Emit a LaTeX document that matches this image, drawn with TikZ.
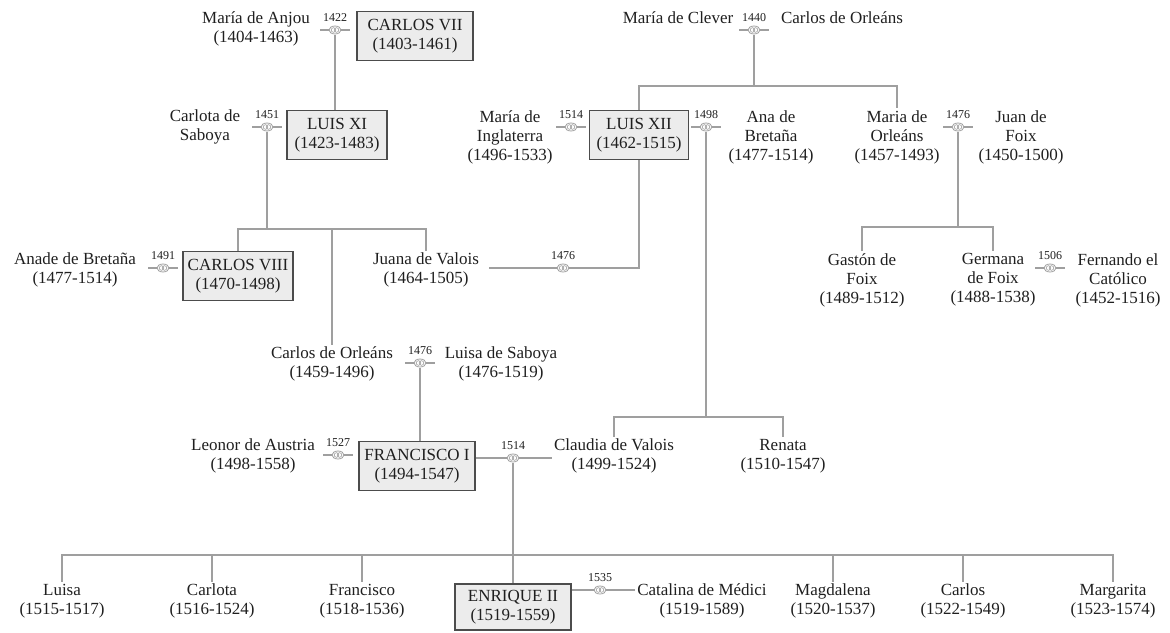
\documentclass[tikz,border=0pt]{standalone}
\usepackage{fontspec}
\setmainfont{Liberation Serif}
\usetikzlibrary{positioning}
\pgfdeclarelayer{bg}
\pgfsetlayers{bg,main}

\begin{document}
\begin{tikzpicture}[x=1pt,y=-1pt,
  person/.style={align=center,text=black!88,inner sep=2pt,font=\fontsize{17}{19}\selectfont},
  king/.style={person,draw=black!70,line width=1.3pt,fill=gray!15,minimum height=49pt,inner xsep=4pt},
  tie/.style={draw=gray!75,line width=1.1pt},
  wyear/.style={text=black!88,inner sep=1pt,font=\fontsize{12}{13}\selectfont},
  wedding/.style={inner sep=0pt,minimum width=30pt,minimum height=10pt,
    label={[wyear,label distance=2pt]above:#1},
    path picture={
      \draw[tie] (path picture bounding box.west) -- (path picture bounding box.east);
      \filldraw[tie,fill=white,line width=0.8pt] (path picture bounding box.center) ellipse (6pt and 4pt);
      \draw[tie,line width=0.6pt] ([xshift=-1.5pt]path picture bounding box.center) circle (2.3pt)
        ([xshift=1.5pt]path picture bounding box.center) circle (2.3pt);}}]
\useasboundingbox (0,0) rectangle (1170,632);
%top row
\node[person] (anjou) at (256,29) {María de Anjou\\(1404-1463)};
\node[wedding=1422] (w1422) at (335,30) {};
\node[king,minimum width=116pt] (carlos7) at (415,36) {CARLOS VII\\(1403-1461)};
\node[person] (clever) at (678,18) {María de Clever};
\node[wedding=1440] (w1440) at (754,30) {};
\node[person] (orleans1) at (842,18) {Carlos de Orleáns};
%second row
\node[person] (carlota) at (205,127) {Carlota de\\Saboya};
\node[wedding=1451] (w1451) at (267,127) {};
\node[king,minimum width=100pt] (luis11) at (337,135) {LUIS XI\\(1423-1483)};
\node[person] (inglaterra) at (510,137) {María de\\Inglaterra\\(1496-1533)};
\node[wedding=1514] (w1514a) at (571,127) {};
\node[king,minimum width=99pt] (luis12) at (639,135) {LUIS XII\\(1462-1515)};
\node[wedding=1498] (w1498) at (706,127) {};
\node[person] (ana) at (771,137) {Ana de\\Bretaña\\(1477-1514)};
\node[person] (mariaO) at (897,137) {Maria de\\Orleáns\\(1457-1493)};
\node[wedding=1476] (w1476b) at (958,127) {};
\node[person] (juanF) at (1021,137) {Juan de\\Foix\\(1450-1500)};
%third row
\node[person] (anade) at (75,270) {Anade de Bretaña\\(1477-1514)};
\node[wedding=1491] (w1491) at (163,268) {};
\node[king,minimum width=110pt] (carlos8) at (238,276) {CARLOS VIII\\(1470-1498)};
\node[person] (juana) at (426,270) {Juana de Valois\\(1464-1505)};
\node[wedding=1476] (w1476a) at (563,268) {};
\node[person] (gaston) at (862,280) {Gastón de\\Foix\\(1489-1512)};
\node[person] (germana) at (993,280) {Germana\\de Foix\\(1488-1538)};
\node[wedding=1506] (w1506) at (1050,268) {};
\node[person] (fernando) at (1118,280) {Fernando el\\Católico\\(1452-1516)};
%fourth row
\node[person] (carlosO) at (332,364) {Carlos de Orleáns\\(1459-1496)};
\node[wedding=1476] (w1476c) at (420,363) {};
\node[person] (luisa) at (501,364) {Luisa de Saboya\\(1476-1519)};
%fifth row
\node[person] (leonor) at (253,456) {Leonor de Austria\\(1498-1558)};
\node[wedding=1527] (w1527) at (338,455) {};
\node[king,minimum width=116pt] (francisco) at (417,466) {FRANCISCO I\\(1494-1547)};
\node[wedding=1514] (w1514b) at (513,458) {};
\node[person] (claudia) at (614,456) {Claudia de Valois\\(1499-1524)};
\node[person] (renata) at (783,456) {Renata\\(1510-1547)};
%children of Francisco I
\node[person] (luisa2) at (62,601) {Luisa\\(1515-1517)};
\node[person] (carlota2) at (212,601) {Carlota\\(1516-1524)};
\node[person] (francisco2) at (362,601) {Francisco\\(1518-1536)};
\node[king,minimum width=116pt,minimum height=46pt] (enrique) at (513,607) {ENRIQUE II\\(1519-1559)};
\node[wedding=1535] (w1535) at (600,590) {};
\node[person] (catalina) at (702,601) {Catalina de Médici\\(1519-1589)};
\node[person] (magdalena) at (833,601) {Magdalena\\(1520-1537)};
\node[person] (carlos2) at (963,601) {Carlos\\(1522-1549)};
\node[person] (margarita) at (1113,601) {Margarita\\(1523-1574)};
%bars
\coordinate (k1) at (267,229);
\coordinate (k2) at (754,86);
\coordinate (k3) at (958,227);
\coordinate (k4) at (706,417);
\coordinate (k5) at (513,555);
%lines
\begin{pgfonlayer}{bg}
\draw[tie] (w1422) -- (w1422 |- luis11.north);
\draw[tie] (w1451) -- (k1);
\draw[tie] (carlos8.north) |- (k1) -| (juana.north);
\draw[tie] (k1 -| carlosO.north) -- (carlosO.north);
\draw[tie] (w1440) -- (k2);
\draw[tie] (luis12.north) |- (k2) -| (mariaO.north);
\draw[tie] (w1476b) -- (k3);
\draw[tie] (gaston.north) |- (k3) -| (germana.north);
\draw[tie] ([xshift=8pt]juana.east |- w1476a) -- (w1476a) -| (luis12.south);
\draw[tie] (w1498) -- (k4);
\draw[tie] (claudia.north) |- (k4) -| (renata.north);
\draw[tie] (w1476c) -- (w1476c |- francisco.north);
\draw[tie] (francisco.east |- w1514b) -- (w1514b) -- (claudia.west |- w1514b);
\draw[tie] (w1514b) -- (enrique.north);
\draw[tie] (luisa2.north) |- (k5) -| (margarita.north);
\foreach \c in {carlota2,francisco2,magdalena,carlos2}
  \draw[tie] (k5 -| \c.north) -- (\c.north);
\draw[tie] (enrique.east |- w1535) -- (w1535) -- (catalina.west |- w1535);
\end{pgfonlayer}
\end{tikzpicture}
\end{document}
